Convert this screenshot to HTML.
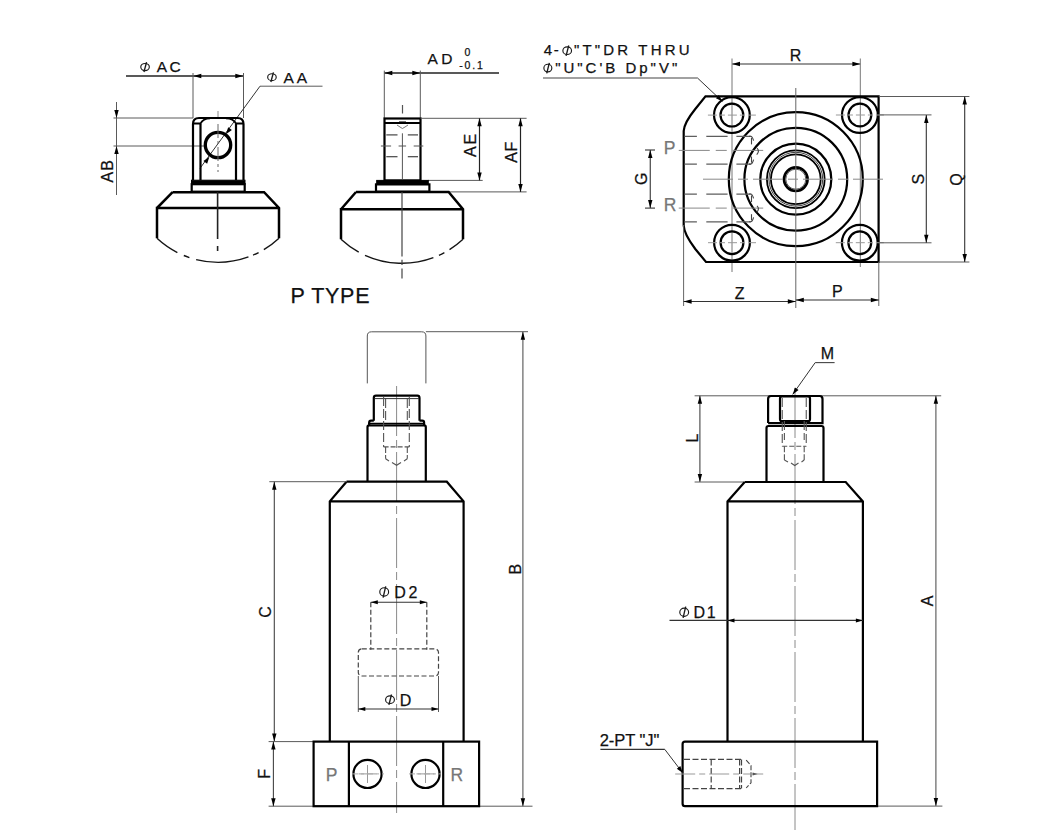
<!DOCTYPE html>
<html><head><meta charset="utf-8"><style>
html,body{margin:0;padding:0;background:#fff;}
svg{display:block;font-family:"Liberation Sans",sans-serif;}
</style></head><body>
<svg width="1056" height="838" viewBox="0 0 1056 838">
<rect width="1056" height="838" fill="#fff"/>
<line x1="126" y1="76" x2="243.5" y2="76" stroke="#222" stroke-width="1.3"/>
<polygon points="193.30,76.00 201.30,73.80 201.30,78.20" fill="#000"/>
<polygon points="243.30,76.00 235.30,78.20 235.30,73.80" fill="#000"/>
<line x1="193" y1="73" x2="193" y2="118" stroke="#5a5a5a" stroke-width="1" fill="none"/>
<line x1="243.5" y1="73" x2="243.5" y2="118" stroke="#5a5a5a" stroke-width="1" fill="none"/>
<ellipse cx="145.05" cy="67.05" rx="4.28" ry="3.58" stroke="#1a1a1a" stroke-width="1.15" fill="none"/>
<line x1="143.95" y1="72.00" x2="146.55" y2="62.10" stroke="#1a1a1a" stroke-width="1.3499999999999999"/>
<text x="156.86" y="72.10" font-size="15.50" letter-spacing="2.19" fill="#111" stroke="#111" stroke-width="0.25" text-anchor="start">AC</text>
<line x1="260" y1="86.2" x2="322.5" y2="86.2" stroke="#5a5a5a" stroke-width="1" fill="none"/>
<line x1="260" y1="86.2" x2="200" y2="168.3" stroke="#333" stroke-width="1"/>
<polygon points="225.90,134.30 228.18,127.29 231.89,130.01" fill="#000"/>
<polygon points="209.40,156.70 207.12,163.71 203.41,160.99" fill="#000"/>
<ellipse cx="271.95" cy="77.20" rx="4.27" ry="3.46" stroke="#1a1a1a" stroke-width="1.15" fill="none"/>
<line x1="270.85" y1="82.00" x2="273.45" y2="72.40" stroke="#1a1a1a" stroke-width="1.3499999999999999"/>
<text x="283.47" y="82.50" font-size="15.50" letter-spacing="3.06" fill="#111" stroke="#111" stroke-width="0.25" text-anchor="start">AA</text>
<line x1="113.5" y1="118" x2="193" y2="118" stroke="#5a5a5a" stroke-width="1" fill="none"/>
<line x1="113.5" y1="146" x2="205" y2="146" stroke="#5a5a5a" stroke-width="1" fill="none"/>
<line x1="116.5" y1="102" x2="116.5" y2="195" stroke="#5a5a5a" stroke-width="1" fill="none"/>
<polygon points="116.50,118.00 114.30,110.00 118.70,110.00" fill="#000"/>
<polygon points="116.50,146.00 118.70,154.00 114.30,154.00" fill="#000"/>
<text x="113.07" y="182.52" font-size="16.00" letter-spacing="1.07" fill="#111" stroke="#111" stroke-width="0.25" text-anchor="start" transform="rotate(-90 113.07 182.52)">AB</text>
<path d="M193,180 V124 Q193,118 199,118 H237.5 Q243.5,118 243.5,124 V180" stroke="#000" stroke-width="2.2" fill="none"/>
<line x1="200.5" y1="124" x2="200.5" y2="180" stroke="#000" stroke-width="2.2" fill="none"/>
<line x1="236" y1="124" x2="236" y2="180" stroke="#000" stroke-width="2.2" fill="none"/>
<path d="M193,123.5 H200.5 Q203,118.5 210,118.3" stroke="#000" stroke-width="1.8" fill="none"/>
<path d="M243.5,123.5 H236 Q233.5,118.5 226,118.3" stroke="#000" stroke-width="1.8" fill="none"/>
<circle cx="218" cy="145" r="12.7" stroke="#000" stroke-width="3.3" fill="none"/>
<line x1="218" y1="111" x2="218" y2="117" stroke="#8a8a8a" stroke-width="1" fill="none" stroke-dasharray="14 3 3 3"/>
<line x1="218" y1="124" x2="218" y2="172" stroke="#666" stroke-width="1" stroke-dasharray="14 3 3 3"/>
<rect x="191.5" y="180.2" width="53.5" height="4.0" rx="0" stroke="#000" stroke-width="1" fill="#000"/>
<rect x="191.7" y="184.2" width="53.0" height="7.5" rx="0" stroke="#000" stroke-width="2.2" fill="none"/>
<path d="M172.6,192.2 H264.1 L279,208 V238.3 M279,208 H157 V238.3 M157,208 L172.6,192.2" stroke="#000" stroke-width="2.5" fill="none"/>
<path d="M157,238.3 A89.5,89.5 0 0 0 279,238.3" stroke="#151515" stroke-width="1.4" fill="none" stroke-dasharray="25 7 6 7 53 5 6 6 30"/>
<line x1="217.6" y1="192" x2="217.6" y2="239" stroke="#222" stroke-width="1.6"/>
<line x1="217.6" y1="246" x2="217.6" y2="251" stroke="#222" stroke-width="1.6"/>
<line x1="384.3" y1="73" x2="499" y2="73" stroke="#222" stroke-width="1.3"/>
<polygon points="384.30,73.00 392.30,70.80 392.30,75.20" fill="#000"/>
<polygon points="420.30,73.00 412.30,75.20 412.30,70.80" fill="#000"/>
<line x1="384.3" y1="70.6" x2="384.3" y2="118.3" stroke="#5a5a5a" stroke-width="1" fill="none"/>
<line x1="420.3" y1="70.6" x2="420.3" y2="118.3" stroke="#5a5a5a" stroke-width="1" fill="none"/>
<text x="427.42" y="63.85" font-size="15.50" letter-spacing="3.44" fill="#111" stroke="#111" stroke-width="0.25" text-anchor="start">AD</text>
<text x="464.40" y="55.55" font-size="10.50" letter-spacing="0.50" fill="#111" stroke="#111" stroke-width="0.25" text-anchor="start">0</text>
<text x="459.25" y="69.26" font-size="10.50" letter-spacing="1.87" fill="#111" stroke="#111" stroke-width="0.25" text-anchor="start">-0.1</text>
<rect x="384.5" y="118.5" width="36.0" height="61.900000000000006" rx="0" stroke="#000" stroke-width="2.2" fill="none"/>
<line x1="385" y1="123" x2="420" y2="123" stroke="#000" stroke-width="2.2" fill="none"/>
<line x1="402.5" y1="105" x2="402.5" y2="113.5" stroke="#555" stroke-width="1.2"/>
<line x1="402.4" y1="133.3" x2="402.4" y2="179.5" stroke="#555" stroke-width="1"/>
<line x1="386.3" y1="134.9" x2="397.5" y2="134.9" stroke="#444" stroke-width="1.2"/>
<line x1="407.8" y1="134.9" x2="418" y2="134.9" stroke="#444" stroke-width="1.2"/>
<line x1="386.3" y1="156.7" x2="397.5" y2="156.7" stroke="#444" stroke-width="1.2"/>
<line x1="407.8" y1="156.7" x2="418" y2="156.7" stroke="#444" stroke-width="1.2"/>
<line x1="380.9" y1="146" x2="391.1" y2="146" stroke="#555" stroke-width="1"/>
<line x1="398.6" y1="146" x2="406.1" y2="146" stroke="#555" stroke-width="1"/>
<line x1="413.7" y1="146" x2="423.3" y2="146" stroke="#555" stroke-width="1"/>
<path d="M397,125 L400,127 L402.4,128.5 L405,127 L408,125 M399,121.5 H406" stroke="#666" stroke-width="0.9" fill="none"/>
<line x1="420.6" y1="118.3" x2="526.6" y2="118.3" stroke="#5a5a5a" stroke-width="1" fill="none"/>
<line x1="428" y1="180.4" x2="482.7" y2="180.4" stroke="#5a5a5a" stroke-width="1" fill="none"/>
<line x1="428.3" y1="191.9" x2="526.6" y2="191.9" stroke="#5a5a5a" stroke-width="1" fill="none"/>
<line x1="479.5" y1="118.3" x2="479.5" y2="180.4" stroke="#222" stroke-width="1.2"/>
<polygon points="479.50,118.30 481.70,126.30 477.30,126.30" fill="#000"/>
<polygon points="479.50,180.40 477.30,172.40 481.70,172.40" fill="#000"/>
<text x="476.08" y="156.88" font-size="16.00" letter-spacing="1.72" fill="#111" stroke="#111" stroke-width="0.25" text-anchor="start" transform="rotate(-90 476.08 156.88)">AE</text>
<line x1="520.5" y1="118.3" x2="520.5" y2="191.9" stroke="#222" stroke-width="1.2"/>
<polygon points="520.50,118.30 522.70,126.30 518.30,126.30" fill="#000"/>
<polygon points="520.50,191.90 518.30,183.90 522.70,183.90" fill="#000"/>
<text x="516.81" y="162.82" font-size="16.00" letter-spacing="0.60" fill="#111" stroke="#111" stroke-width="0.25" text-anchor="start" transform="rotate(-90 516.81 162.82)">AF</text>
<rect x="376.7" y="180.4" width="51.60000000000002" height="4.0" rx="0" stroke="#000" stroke-width="1" fill="#000"/>
<rect x="376" y="184.4" width="53.39999999999998" height="7.299999999999983" rx="0" stroke="#000" stroke-width="2.2" fill="none"/>
<path d="M356,192 H448.6 L463,209.2 V239.3 M463,209.2 H341 V239.3 M341,209.2 L356,192" stroke="#000" stroke-width="2.5" fill="none"/>
<path d="M341,239.3 A89.5,89.5 0 0 0 463,239.3" stroke="#151515" stroke-width="1.4" fill="none" stroke-dasharray="22 7 70 6 6 6 30"/>
<line x1="402" y1="192" x2="402" y2="256.5" stroke="#444" stroke-width="1.2"/>
<line x1="402" y1="259.8" x2="402" y2="265" stroke="#444" stroke-width="1.2"/>
<line x1="402" y1="268.5" x2="402" y2="278.4" stroke="#444" stroke-width="1.2"/>
<text x="290.38" y="303.10" font-size="21.50" letter-spacing="0.68" fill="#111" stroke="#111" stroke-width="0.25" text-anchor="start">P TYPE</text>
<text x="543.69" y="55.12" font-size="15.00" letter-spacing="1.80" fill="#111" stroke="#111" stroke-width="0.25" text-anchor="start">4-</text>
<ellipse cx="567.20" cy="50.70" rx="4.33" ry="3.79" stroke="#1a1a1a" stroke-width="1.15" fill="none"/>
<line x1="566.10" y1="55.90" x2="568.70" y2="45.50" stroke="#1a1a1a" stroke-width="1.3499999999999999"/>
<text x="573.88" y="55.30" font-size="15.00" letter-spacing="3.18" fill="#111" stroke="#111" stroke-width="0.25" text-anchor="start">"T"DR THRU</text>
<ellipse cx="547.85" cy="68.05" rx="3.98" ry="3.83" stroke="#1a1a1a" stroke-width="1.15" fill="none"/>
<line x1="546.75" y1="73.30" x2="549.35" y2="62.80" stroke="#1a1a1a" stroke-width="1.3499999999999999"/>
<text x="555.17" y="73.00" font-size="15.00" letter-spacing="2.99" fill="#111" stroke="#111" stroke-width="0.25" text-anchor="start">"U"C'B Dp"V"</text>
<line x1="543" y1="78" x2="697.5" y2="78" stroke="#444" stroke-width="1.2"/>
<line x1="697.5" y1="78" x2="722.5" y2="101.5" stroke="#333" stroke-width="1"/>
<polygon points="722.50,101.50 715.89,98.31 718.90,95.10" fill="#000"/>
<line x1="732" y1="64" x2="860.4" y2="64" stroke="#333" stroke-width="1.1"/>
<polygon points="732.00,64.00 740.00,61.80 740.00,66.20" fill="#000"/>
<polygon points="860.40,64.00 852.40,66.20 852.40,61.80" fill="#000"/>
<text x="789.79" y="60.75" font-size="16.00" letter-spacing="0.00" fill="#111" stroke="#111" stroke-width="0.25" text-anchor="start">R</text>
<line x1="732" y1="58.5" x2="732" y2="272" stroke="#777" stroke-width="1"/>
<line x1="860.3" y1="58.5" x2="860.3" y2="267" stroke="#777" stroke-width="1"/>
<path d="M705.5,96.4 H878.6 V262 H706 L695.3,249 Q684,234 683.7,225.5 V131 Q684,123 695.1,109.2 Z" stroke="#000" stroke-width="2.2" fill="none"/>
<circle cx="731.9" cy="115.1" r="17.9" stroke="#000" stroke-width="2.2" fill="none"/>
<circle cx="731.9" cy="115.1" r="11.4" stroke="#000" stroke-width="2.2" fill="none"/>
<line x1="707.9" y1="115.1" x2="755.9" y2="115.1" stroke="#999" stroke-width="1" stroke-dasharray="9 3 5 3"/>
<circle cx="859.9" cy="115.0" r="17.9" stroke="#000" stroke-width="2.2" fill="none"/>
<circle cx="859.9" cy="115.0" r="11.4" stroke="#000" stroke-width="2.2" fill="none"/>
<line x1="835.9" y1="115.0" x2="883.9" y2="115.0" stroke="#999" stroke-width="1" stroke-dasharray="9 3 5 3"/>
<circle cx="732" cy="242.7" r="17.9" stroke="#000" stroke-width="2.2" fill="none"/>
<circle cx="732" cy="242.7" r="11.4" stroke="#000" stroke-width="2.2" fill="none"/>
<line x1="708" y1="242.7" x2="756" y2="242.7" stroke="#999" stroke-width="1" stroke-dasharray="9 3 5 3"/>
<circle cx="859.8" cy="242.7" r="17.9" stroke="#000" stroke-width="2.2" fill="none"/>
<circle cx="859.8" cy="242.7" r="11.4" stroke="#000" stroke-width="2.2" fill="none"/>
<line x1="835.8" y1="242.7" x2="883.8" y2="242.7" stroke="#999" stroke-width="1" stroke-dasharray="9 3 5 3"/>
<circle cx="795.8" cy="179.2" r="67" stroke="#000" stroke-width="2.2" fill="none"/>
<circle cx="795.8" cy="179.2" r="51.4" stroke="#000" stroke-width="2.2" fill="none"/>
<circle cx="795.8" cy="179.2" r="35.5" stroke="#000" stroke-width="2.2" fill="none"/>
<circle cx="795.8" cy="179.2" r="28.9" stroke="#000" stroke-width="1.8" fill="none"/>
<circle cx="795.8" cy="179.2" r="26.9" stroke="#222" stroke-width="0.9" fill="none"/>
<circle cx="795.8" cy="179.2" r="24.9" stroke="#000" stroke-width="1.8" fill="none"/>
<circle cx="795.8" cy="179.2" r="11.8" stroke="#000" stroke-width="2.6" fill="none"/>
<circle cx="795.8" cy="179.2" r="10.0" stroke="#333" stroke-width="0.8" fill="none"/>
<line x1="795.8" y1="88" x2="795.8" y2="308" stroke="#666" stroke-width="1"/>
<line x1="703" y1="179.2" x2="887" y2="179.2" stroke="#888" stroke-width="1" stroke-dasharray="30 5 10 5"/>
<line x1="684.4" y1="136.3" x2="750.75" y2="136.3" stroke="#5e5e5e" stroke-width="1.25" stroke-dasharray="12.5 9.4 21.3 8.8 30"/>
<line x1="684.4" y1="164.1" x2="750.75" y2="164.1" stroke="#5e5e5e" stroke-width="1.25" stroke-dasharray="12.5 9.4 21.3 8.8 30"/>
<line x1="678.75" y1="150.4" x2="763.2" y2="150.4" stroke="#888" stroke-width="1" stroke-dasharray="31 6 11 6 40"/>
<path d="M749,136.3 H750.75 Q752.3,136.3 753.6,140.60000000000002" stroke="#444" stroke-width="1.1" fill="none"/>
<line x1="751.5" y1="137.70000000000002" x2="751.5" y2="144.4" stroke="#444" stroke-width="1.1" fill="none"/>
<path d="M757,148.1 Q760,150.9 756.7,154.6" stroke="#444" stroke-width="1.1" fill="none"/>
<path d="M749,164.1 H750.75 Q752.3,164.1 753.6,159.6" stroke="#444" stroke-width="1.1" fill="none"/>
<line x1="751.5" y1="156.5" x2="751.5" y2="162.7" stroke="#444" stroke-width="1.1" fill="none"/>
<line x1="684.4" y1="194.0" x2="750.75" y2="194.0" stroke="#5e5e5e" stroke-width="1.25" stroke-dasharray="12.5 9.4 21.3 8.8 30"/>
<line x1="684.4" y1="221.8" x2="750.75" y2="221.8" stroke="#5e5e5e" stroke-width="1.25" stroke-dasharray="12.5 9.4 21.3 8.8 30"/>
<line x1="678.75" y1="208.1" x2="763.2" y2="208.1" stroke="#888" stroke-width="1" stroke-dasharray="31 6 11 6 40"/>
<path d="M749,194.0 H750.75 Q752.3,194.0 753.6,198.3" stroke="#444" stroke-width="1.1" fill="none"/>
<line x1="751.5" y1="195.4" x2="751.5" y2="202.1" stroke="#444" stroke-width="1.1" fill="none"/>
<path d="M757,205.79999999999998 Q760,208.6 756.7,212.29999999999998" stroke="#444" stroke-width="1.1" fill="none"/>
<path d="M749,221.8 H750.75 Q752.3,221.8 753.6,217.3" stroke="#444" stroke-width="1.1" fill="none"/>
<line x1="751.5" y1="214.20000000000002" x2="751.5" y2="220.4" stroke="#444" stroke-width="1.1" fill="none"/>
<text x="663.69" y="153.55" font-size="17.50" letter-spacing="0.00" fill="#777" stroke="#777" stroke-width="0.25" text-anchor="start">P</text>
<text x="663.75" y="210.55" font-size="17.50" letter-spacing="0.00" fill="#777" stroke="#777" stroke-width="0.25" text-anchor="start">R</text>
<line x1="650.25" y1="150" x2="650.25" y2="208.1" stroke="#333" stroke-width="1.1"/>
<line x1="645" y1="150" x2="655" y2="150" stroke="#333" stroke-width="1.1"/>
<line x1="645" y1="208.1" x2="655" y2="208.1" stroke="#333" stroke-width="1.1"/>
<polygon points="650.25,150.00 652.45,158.00 648.05,158.00" fill="#000"/>
<polygon points="650.25,208.10 648.05,200.10 652.45,200.10" fill="#000"/>
<text x="647.43" y="184.98" font-size="16.00" letter-spacing="0.00" fill="#111" stroke="#111" stroke-width="0.25" text-anchor="start" transform="rotate(-90 647.43 184.98)">G</text>
<line x1="878.8" y1="114.9" x2="931.5" y2="114.9" stroke="#5a5a5a" stroke-width="1" fill="none"/>
<line x1="878.8" y1="242.8" x2="931.5" y2="242.8" stroke="#5a5a5a" stroke-width="1" fill="none"/>
<line x1="878.8" y1="96.5" x2="969.4" y2="96.5" stroke="#5a5a5a" stroke-width="1" fill="none"/>
<line x1="878.8" y1="262" x2="969.4" y2="262" stroke="#5a5a5a" stroke-width="1" fill="none"/>
<line x1="926.3" y1="114.9" x2="926.3" y2="242.8" stroke="#333" stroke-width="1.1"/>
<polygon points="926.30,114.90 928.50,122.90 924.10,122.90" fill="#000"/>
<polygon points="926.30,242.80 924.10,234.80 928.50,234.80" fill="#000"/>
<line x1="964.7" y1="96.5" x2="964.7" y2="262" stroke="#333" stroke-width="1.1"/>
<polygon points="964.70,96.50 966.90,104.50 962.50,104.50" fill="#000"/>
<polygon points="964.70,262.00 962.50,254.00 966.90,254.00" fill="#000"/>
<text x="923.60" y="184.49" font-size="16.00" letter-spacing="0.00" fill="#111" stroke="#111" stroke-width="0.25" text-anchor="start" transform="rotate(-90 923.60 184.49)">S</text>
<text x="962.50" y="185.67" font-size="16.00" letter-spacing="0.00" fill="#111" stroke="#111" stroke-width="0.25" text-anchor="start" transform="rotate(-90 962.50 185.67)">Q</text>
<line x1="683.6" y1="225" x2="683.6" y2="306" stroke="#666" stroke-width="1"/>
<line x1="878.8" y1="262" x2="878.8" y2="306" stroke="#666" stroke-width="1"/>
<line x1="683.6" y1="301.5" x2="795.8" y2="301.5" stroke="#333" stroke-width="1.1"/>
<polygon points="683.60,301.50 691.60,299.30 691.60,303.70" fill="#000"/>
<polygon points="795.80,301.50 787.80,303.70 787.80,299.30" fill="#000"/>
<line x1="795.8" y1="300" x2="878.8" y2="300" stroke="#333" stroke-width="1.1"/>
<polygon points="795.80,300.00 803.80,297.80 803.80,302.20" fill="#000"/>
<polygon points="878.80,300.00 870.80,302.20 870.80,297.80" fill="#000"/>
<text x="734.72" y="298.70" font-size="16.00" letter-spacing="0.00" fill="#111" stroke="#111" stroke-width="0.25" text-anchor="start">Z</text>
<text x="831.98" y="297.15" font-size="16.00" letter-spacing="0.00" fill="#111" stroke="#111" stroke-width="0.25" text-anchor="start">P</text>
<line x1="396.6" y1="386" x2="396.6" y2="813" stroke="#8a8a8a" stroke-width="1" fill="none" stroke-dasharray="50 4 8 4"/>
<path d="M367.3,383.4 V336 Q367.3,331.8 371.5,331.8 H421.7 Q425.9,331.8 425.9,336 V383.4" stroke="#555" stroke-width="1" fill="none"/>
<line x1="425.9" y1="331.7" x2="528" y2="331.7" stroke="#5a5a5a" stroke-width="1" fill="none"/>
<line x1="522.9" y1="331.7" x2="522.9" y2="806.2" stroke="#555" stroke-width="1.1"/>
<polygon points="522.90,331.70 525.10,339.70 520.70,339.70" fill="#000"/>
<polygon points="522.90,806.20 520.70,798.20 525.10,798.20" fill="#000"/>
<text x="521.38" y="574.50" font-size="16.00" letter-spacing="0.00" fill="#111" stroke="#111" stroke-width="0.25" text-anchor="start" transform="rotate(-90 521.38 574.50)">B</text>
<path d="M373.8,420.7 V398 Q373.8,395.7 376,395.7 H417.3 Q419.5,395.7 419.5,398 V420.7" stroke="#000" stroke-width="2.2" fill="none"/>
<line x1="374.5" y1="398.6" x2="419" y2="398.6" stroke="#333" stroke-width="1"/>
<path d="M373.8,420.7 H371 Q369.2,420.7 369.2,422.5 V425.3 M419.5,420.7 H422.3 Q424.1,420.7 424.1,422.5 V425.3" stroke="#000" stroke-width="2.2" fill="none"/>
<line x1="368" y1="423.3" x2="425" y2="423.3" stroke="#000" stroke-width="1.2"/>
<path d="M367.5,481.7 V427 Q367.5,425.3 369.2,425.3 H424.1 Q425.8,425.3 425.8,427 V481.7" stroke="#000" stroke-width="2.2" fill="none"/>
<line x1="383.6" y1="397" x2="383.6" y2="446.9" stroke="#555" stroke-width="1.1" fill="none" stroke-dasharray="9 3"/>
<line x1="409.3" y1="397" x2="409.3" y2="446.9" stroke="#555" stroke-width="1.1" fill="none" stroke-dasharray="9 3"/>
<line x1="385.6" y1="399" x2="385.6" y2="421" stroke="#555" stroke-width="1.1" fill="none" stroke-dasharray="9 3"/>
<line x1="407.3" y1="399" x2="407.3" y2="421" stroke="#555" stroke-width="1.1" fill="none" stroke-dasharray="9 3"/>
<line x1="383.6" y1="446.9" x2="409.3" y2="446.9" stroke="#555" stroke-width="1.1" stroke-dasharray="5 2"/>
<line x1="385.6" y1="446.9" x2="385.6" y2="458.7" stroke="#555" stroke-width="1.1" stroke-dasharray="6 2"/>
<line x1="407.3" y1="446.9" x2="407.3" y2="458.7" stroke="#555" stroke-width="1.1" stroke-dasharray="6 2"/>
<path d="M385.6,458.7 L389,461 M392,462.5 L396.6,465.3 L401,462.5 M404,461 L407.3,458.7" stroke="#555" stroke-width="1.1" fill="none"/>
<path d="M346.5,481.7 H446.8 L463.6,501.3 V741.6 M329.8,741.6 V501.3 L346.5,481.7 M329.8,501.3 H463.6" stroke="#000" stroke-width="2.2" fill="none"/>
<line x1="269.3" y1="481.7" x2="346.5" y2="481.7" stroke="#5a5a5a" stroke-width="1" fill="none"/>
<line x1="274.3" y1="481.7" x2="274.3" y2="741.6" stroke="#444" stroke-width="1.1"/>
<polygon points="274.30,481.70 276.50,489.70 272.10,489.70" fill="#000"/>
<polygon points="274.30,741.60 272.10,733.60 276.50,733.60" fill="#000"/>
<text x="271.05" y="617.78" font-size="16.00" letter-spacing="0.00" fill="#111" stroke="#111" stroke-width="0.25" text-anchor="start" transform="rotate(-90 271.05 617.78)">C</text>
<line x1="268.6" y1="741.6" x2="313.6" y2="741.6" stroke="#5a5a5a" stroke-width="1" fill="none"/>
<line x1="268.6" y1="806.2" x2="532.5" y2="806.2" stroke="#5a5a5a" stroke-width="1" fill="none"/>
<line x1="273.4" y1="741.6" x2="273.4" y2="806.2" stroke="#444" stroke-width="1.1"/>
<polygon points="273.40,741.60 275.60,749.60 271.20,749.60" fill="#000"/>
<polygon points="273.40,806.20 271.20,798.20 275.60,798.20" fill="#000"/>
<text x="270.50" y="778.85" font-size="16.00" letter-spacing="0.00" fill="#111" stroke="#111" stroke-width="0.25" text-anchor="start" transform="rotate(-90 270.50 778.85)">F</text>
<rect x="313.6" y="741.6" width="165.5" height="64.60000000000002" rx="0" stroke="#000" stroke-width="2.2" fill="none"/>
<line x1="348.9" y1="741.6" x2="348.9" y2="806.2" stroke="#000" stroke-width="2.2" fill="none"/>
<line x1="443.2" y1="741.6" x2="443.2" y2="806.2" stroke="#000" stroke-width="2.2" fill="none"/>
<circle cx="367.5" cy="773.9" r="14.1" stroke="#000" stroke-width="2.2" fill="none"/>
<line x1="358.5" y1="773.9" x2="376.5" y2="773.9" stroke="#999" stroke-width="1"/>
<line x1="367.5" y1="765" x2="367.5" y2="783" stroke="#999" stroke-width="1"/>
<circle cx="425.5" cy="773.9" r="14.1" stroke="#000" stroke-width="2.2" fill="none"/>
<line x1="416.5" y1="773.9" x2="434.5" y2="773.9" stroke="#999" stroke-width="1"/>
<line x1="425.5" y1="765" x2="425.5" y2="783" stroke="#999" stroke-width="1"/>
<line x1="352" y1="773.9" x2="384" y2="773.9" stroke="#aaa" stroke-width="1" stroke-dasharray="6 3 3 3"/>
<line x1="409" y1="773.9" x2="441" y2="773.9" stroke="#aaa" stroke-width="1" stroke-dasharray="6 3 3 3"/>
<text x="325.78" y="781.35" font-size="17.50" letter-spacing="0.00" fill="#777" stroke="#777" stroke-width="0.25" text-anchor="start">P</text>
<text x="450.60" y="781.35" font-size="17.50" letter-spacing="0.00" fill="#777" stroke="#777" stroke-width="0.25" text-anchor="start">R</text>
<line x1="370.8" y1="602.3" x2="370.8" y2="649.7" stroke="#444" stroke-width="1.2" fill="none" stroke-dasharray="5 2.5"/>
<line x1="426.8" y1="602.3" x2="426.8" y2="649.7" stroke="#444" stroke-width="1.2" fill="none" stroke-dasharray="5 2.5"/>
<line x1="370.8" y1="602.3" x2="426.8" y2="602.3" stroke="#333" stroke-width="1.1"/>
<polygon points="370.80,602.30 377.80,600.30 377.80,604.30" fill="#000"/>
<polygon points="426.80,602.30 419.80,604.30 419.80,600.30" fill="#000"/>
<ellipse cx="384.20" cy="591.95" rx="4.42" ry="4.17" stroke="#1a1a1a" stroke-width="1.15" fill="none"/>
<line x1="383.10" y1="597.60" x2="385.70" y2="586.30" stroke="#1a1a1a" stroke-width="1.3499999999999999"/>
<text x="394.23" y="598.20" font-size="16.00" letter-spacing="2.70" fill="#111" stroke="#111" stroke-width="0.25" text-anchor="start">D2</text>
<rect x="358.3" y="648.9" width="80.19999999999999" height="27.100000000000023" rx="3.5" stroke="#444" stroke-width="1.2" fill="none" stroke-dasharray="5 2.5"/>
<line x1="358.3" y1="676" x2="358.3" y2="712" stroke="#5a5a5a" stroke-width="1" fill="none"/>
<line x1="438.5" y1="676" x2="438.5" y2="712" stroke="#5a5a5a" stroke-width="1" fill="none"/>
<line x1="358.3" y1="709" x2="438.5" y2="709" stroke="#333" stroke-width="1.1"/>
<polygon points="358.30,709.00 365.30,707.00 365.30,711.00" fill="#000"/>
<polygon points="438.50,709.00 431.50,711.00 431.50,707.00" fill="#000"/>
<ellipse cx="390.00" cy="699.70" rx="4.42" ry="3.79" stroke="#1a1a1a" stroke-width="1.15" fill="none"/>
<line x1="388.90" y1="704.90" x2="391.50" y2="694.50" stroke="#1a1a1a" stroke-width="1.3499999999999999"/>
<text x="399.75" y="705.80" font-size="16.00" letter-spacing="1.00" fill="#111" stroke="#111" stroke-width="0.25" text-anchor="start">D</text>
<line x1="795" y1="388" x2="795" y2="830" stroke="#8a8a8a" stroke-width="1" fill="none" stroke-dasharray="50 4 8 4"/>
<text x="820.75" y="359.45" font-size="16.00" letter-spacing="0.00" fill="#111" stroke="#111" stroke-width="0.25" text-anchor="start">M</text>
<line x1="815.2" y1="362.6" x2="834.6" y2="362.6" stroke="#444" stroke-width="1.1"/>
<line x1="815.2" y1="362.6" x2="792.7" y2="394.4" stroke="#333" stroke-width="1"/>
<polygon points="792.70,394.40 794.95,387.42 798.54,389.96" fill="#000"/>
<line x1="694.6" y1="395.8" x2="941.2" y2="395.8" stroke="#5a5a5a" stroke-width="1" fill="none"/>
<line x1="699.9" y1="395.8" x2="699.9" y2="482" stroke="#444" stroke-width="1.1"/>
<polygon points="699.90,395.80 702.10,403.80 697.70,403.80" fill="#000"/>
<polygon points="699.90,482.00 697.70,474.00 702.10,474.00" fill="#000"/>
<line x1="694.6" y1="482" x2="743.6" y2="482" stroke="#5a5a5a" stroke-width="1" fill="none"/>
<text x="698.00" y="442.57" font-size="16.00" letter-spacing="0.00" fill="#111" stroke="#111" stroke-width="0.25" text-anchor="start" transform="rotate(-90 698.00 442.57)">L</text>
<line x1="935.9" y1="395.8" x2="935.9" y2="806" stroke="#555" stroke-width="1.1"/>
<polygon points="935.90,395.80 938.10,403.80 933.70,403.80" fill="#000"/>
<polygon points="935.90,806.00 933.70,798.00 938.10,798.00" fill="#000"/>
<line x1="877" y1="806.1" x2="942.4" y2="806.1" stroke="#5a5a5a" stroke-width="1" fill="none"/>
<text x="933.10" y="606.30" font-size="16.00" letter-spacing="0.00" fill="#111" stroke="#111" stroke-width="0.25" text-anchor="start" transform="rotate(-90 933.10 606.30)">A</text>
<path d="M768.1,423.1 V399 Q768.1,396 771,396 H819.6 Q822.5,396 822.5,399 V423.1 H768.1" stroke="#000" stroke-width="2.2" fill="none"/>
<rect x="780" y="396.5" width="30" height="24.69999999999999" rx="2" stroke="#000" stroke-width="2.2" fill="none"/>
<path d="M766.5,481.25 V428 Q766.5,426 768.5,426 H821.5 Q823.5,426 823.5,428 V481.25" stroke="#000" stroke-width="2.2" fill="none"/>
<line x1="782.25" y1="398" x2="782.25" y2="446.3" stroke="#555" stroke-width="1.1" fill="none" stroke-dasharray="9 3"/>
<line x1="806.25" y1="398" x2="806.25" y2="446.3" stroke="#555" stroke-width="1.1" fill="none" stroke-dasharray="9 3"/>
<line x1="784.4" y1="421" x2="784.4" y2="440" stroke="#555" stroke-width="1.1" fill="none" stroke-dasharray="9 3"/>
<line x1="804.2" y1="421" x2="804.2" y2="440" stroke="#555" stroke-width="1.1" fill="none" stroke-dasharray="9 3"/>
<line x1="782.25" y1="446.3" x2="806.25" y2="446.3" stroke="#555" stroke-width="1.1" stroke-dasharray="5 2"/>
<line x1="784.4" y1="446.3" x2="784.4" y2="460" stroke="#555" stroke-width="1.1" stroke-dasharray="6 2"/>
<line x1="804.2" y1="446.3" x2="804.2" y2="460" stroke="#555" stroke-width="1.1" stroke-dasharray="6 2"/>
<path d="M784.4,460 L788,462 M791,463 L794.75,465.5 L798.5,463 M801.5,462 L804.2,460" stroke="#555" stroke-width="1.1" fill="none"/>
<path d="M744.7,482 H845.7 L862.9,501.4 V741.6 M727.5,741.6 V501.4 L744.7,482 M727.5,501.4 H862.9" stroke="#000" stroke-width="2.2" fill="none"/>
<line x1="669.5" y1="620.4" x2="862.9" y2="620.4" stroke="#333" stroke-width="1.1"/>
<polygon points="727.50,620.40 734.50,618.40 734.50,622.40" fill="#000"/>
<polygon points="862.90,620.40 855.90,622.40 855.90,618.40" fill="#000"/>
<ellipse cx="684.20" cy="612.25" rx="4.42" ry="4.17" stroke="#1a1a1a" stroke-width="1.15" fill="none"/>
<line x1="683.10" y1="617.90" x2="685.70" y2="606.60" stroke="#1a1a1a" stroke-width="1.3499999999999999"/>
<text x="693.48" y="617.75" font-size="16.00" letter-spacing="1.67" fill="#111" stroke="#111" stroke-width="0.25" text-anchor="start">D1</text>
<path d="M682.6,744 Q682.6,741.6 685,741.6 H877.1 V806.1 H685 Q682.6,806.1 682.6,803.7 Z" stroke="#000" stroke-width="2.2" fill="none"/>
<text x="599.73" y="745.80" font-size="16.50" letter-spacing="-0.07" fill="#111" stroke="#111" stroke-width="0.25" text-anchor="start">2-PT "J"</text>
<line x1="600.4" y1="749.4" x2="664.8" y2="749.4" stroke="#333" stroke-width="1.1"/>
<line x1="664.8" y1="749.4" x2="682.8" y2="773" stroke="#333" stroke-width="1"/>
<polygon points="682.80,773.00 676.81,768.76 680.31,766.10" fill="#000"/>
<line x1="684" y1="759.4" x2="741.5" y2="759.4" stroke="#444" stroke-width="1.2" fill="none" stroke-dasharray="6 2.5"/>
<line x1="684" y1="788.6" x2="741.5" y2="788.6" stroke="#444" stroke-width="1.2" fill="none" stroke-dasharray="6 2.5"/>
<line x1="711.2" y1="759.4" x2="711.2" y2="788.6" stroke="#444" stroke-width="1.2" fill="none" stroke-dasharray="6 2.5"/>
<line x1="739.6" y1="759.4" x2="739.6" y2="788.6" stroke="#444" stroke-width="1.2" fill="none" stroke-dasharray="6 2.5"/>
<line x1="741.5" y1="759.4" x2="741.5" y2="788.6" stroke="#444" stroke-width="1.2" fill="none" stroke-dasharray="6 2.5"/>
<path d="M746.2,760.2 L751,765.5 V782.8 L746.2,788" stroke="#444" stroke-width="1.1" fill="none" stroke-dasharray="5 2"/>
<line x1="675.2" y1="774" x2="766.1" y2="774" stroke="#999" stroke-width="1" stroke-dasharray="20 4 6 4"/>
<polygon points="757.60,774.00 752.60,775.60 752.60,772.40" fill="#555"/>
</svg></body></html>
